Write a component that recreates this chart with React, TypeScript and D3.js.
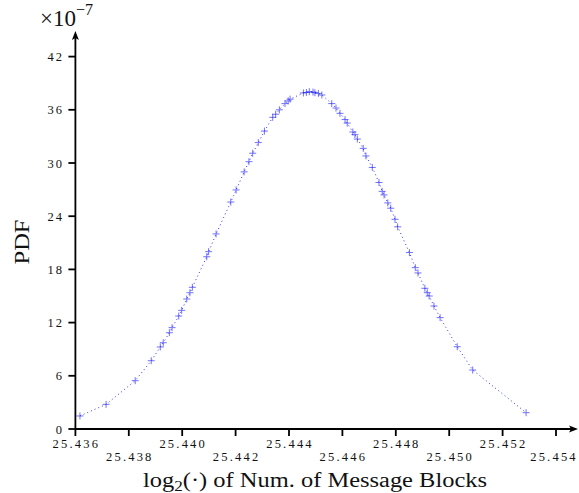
import React from "react";
import * as d3 from "d3";

// log2 of number of message blocks
const xVals = [
  25.43617, 25.43715, 25.43824, 25.43884, 25.43918, 25.43929, 25.43952, 25.43962,
  25.43987, 25.43998, 25.44017, 25.44029, 25.44038, 25.44092, 25.44099, 25.44127,
  25.44182, 25.44202, 25.44232, 25.4425, 25.44264, 25.44285, 25.44308, 25.44339,
  25.4435, 25.44364, 25.44385, 25.44397, 25.44404, 25.44454, 25.44465, 25.44476,
  25.4449, 25.44497, 25.4451, 25.44523, 25.4456, 25.44576, 25.44591, 25.4461,
  25.44618, 25.44639, 25.44647, 25.44656, 25.44678, 25.44688, 25.44712, 25.44737,
  25.44749, 25.44756, 25.4477, 25.44781, 25.44797, 25.44807, 25.44851, 25.44873,
  25.44883, 25.44909, 25.44918, 25.44925, 25.44943, 25.44966, 25.4503, 25.45088,
  25.45288,
];

// PDF, in units of 1e-7
const pdfVals = [
  1.47, 2.78, 5.45, 7.7, 9.25, 9.73, 10.86, 11.43,
  12.74, 13.38, 14.66, 15.37, 15.98, 19.43, 20.0, 22.0,
  25.6, 26.96, 29.0, 30.15, 31.1, 32.3, 33.6, 35.15,
  35.5, 36.0, 36.7, 37.0, 37.2, 37.9, 37.95, 38.04,
  38.0, 37.93, 37.85, 37.67, 36.7, 36.2, 35.6, 34.9,
  34.5, 33.5, 33.2, 32.7, 31.65, 30.8, 29.5, 27.8,
  26.8, 26.4, 25.5, 24.9, 23.65, 22.8, 19.9, 18.2,
  17.6, 15.87, 15.37, 15.0, 13.87, 12.56, 9.28, 6.65,
  1.84,
];

const xTicks = [25.436, 25.438, 25.44, 25.442, 25.444, 25.446, 25.448, 25.45, 25.452, 25.454];
const yTicks = [0, 6, 12, 18, 24, 30, 36, 42];

const W = 579;
const H = 493;
const serif = "'Liberation Serif', 'DejaVu Serif', serif";

export default function App() {
  const x = d3.scaleLinear().domain([25.436, 25.454]).range([75.4, 556]);
  const y = d3.scaleLinear().domain([0, 42]).range([429, 56.6]);

  const pts = xVals.map((v, i) => [v, pdfVals[i]] as [number, number]);
  const line = d3
    .line<[number, number]>()
    .x((d) => x(d[0]))
    .y((d) => y(d[1]));

  const x0 = x(25.436);
  const y0 = y(0);

  return (
    <svg
      width={W}
      height={H}
      style={{ position: "absolute", left: 0, top: 0, background: "#fff" }}
    >
      {/* dotted curve */}
      <path
        d={line(pts) || ""}
        fill="none"
        stroke="#0000ff"
        strokeWidth={1}
        strokeDasharray="1 3"
        opacity={0.8}
      />
      {/* + markers */}
      {pts.map((d, i) => (
        <g key={i} transform={`translate(${x(d[0])},${y(d[1])})`} stroke="#0000ff" strokeWidth={1} opacity={0.55}>
          <line x1={-3.5} x2={3.5} y1={0} y2={0} />
          <line x1={0} x2={0} y1={-3.5} y2={3.5} />
        </g>
      ))}

      {/* x axis */}
      <line x1={x0} x2={574} y1={y0} y2={y0} stroke="#000" strokeWidth={1.8} />
      <path d={`M578,${y0} L569,${y0 - 3.5} L571,${y0} L569,${y0 + 3.5} Z`} fill="#000" />
      {xTicks.map((t, i) => (
        <g key={t}>
          <line x1={x(t)} x2={x(t)} y1={y0} y2={y0 + 7} stroke="#000" strokeWidth={1.8} />
          <text
            x={i === xTicks.length - 1 ? x(t) - 2 : x(t) + 1}
            y={i % 2 === 0 ? 448 : 461}
            textAnchor="middle"
            fontFamily={serif}
            fontSize={12.5}
            letterSpacing={2.2}
            fill="#111"
          >
            {d3.format(".3f")(t)}
          </text>
        </g>
      ))}

      {/* y axis */}
      <line x1={x0} x2={x0} y1={y0} y2={36} stroke="#000" strokeWidth={1.8} />
      <path d={`M${x0},31 L${x0 - 3.5},40 L${x0},38 L${x0 + 3.5},40 Z`} fill="#000" />
      {yTicks.map((t) => (
        <g key={t}>
          <line x1={x0 - 7} x2={x0} y1={y(t)} y2={y(t)} stroke="#000" strokeWidth={1.8} />
          <text
            x={64}
            y={y(t) + 4.5}
            textAnchor="end"
            fontFamily={serif}
            fontSize={12.5}
            letterSpacing={2}
            fill="#111"
          >
            {t}
          </text>
        </g>
      ))}

      {/* exponent */}
      <text x={40} y={26} fontFamily={serif} fontSize={23} fill="#111">
        ×10
        <tspan dy={-11} fontSize={16}>−7</tspan>
      </text>

      {/* labels */}
      <text
        transform={`translate(29,242) rotate(-90)`}
        textAnchor="middle"
        fontFamily={serif}
        fontSize={20}
        textLength={45}
        lengthAdjust="spacingAndGlyphs"
        fill="#111"
      >
        PDF
      </text>
      <text
        x={143}
        y={487}
        fontFamily={serif}
        fontSize={20}
        textLength={344}
        lengthAdjust="spacingAndGlyphs"
        fill="#111"
      >
        log
        <tspan fontSize={14} dy={4}>2</tspan>
        <tspan dy={-4}>(·) of Num. of Message Blocks</tspan>
      </text>
    </svg>
  );
}
